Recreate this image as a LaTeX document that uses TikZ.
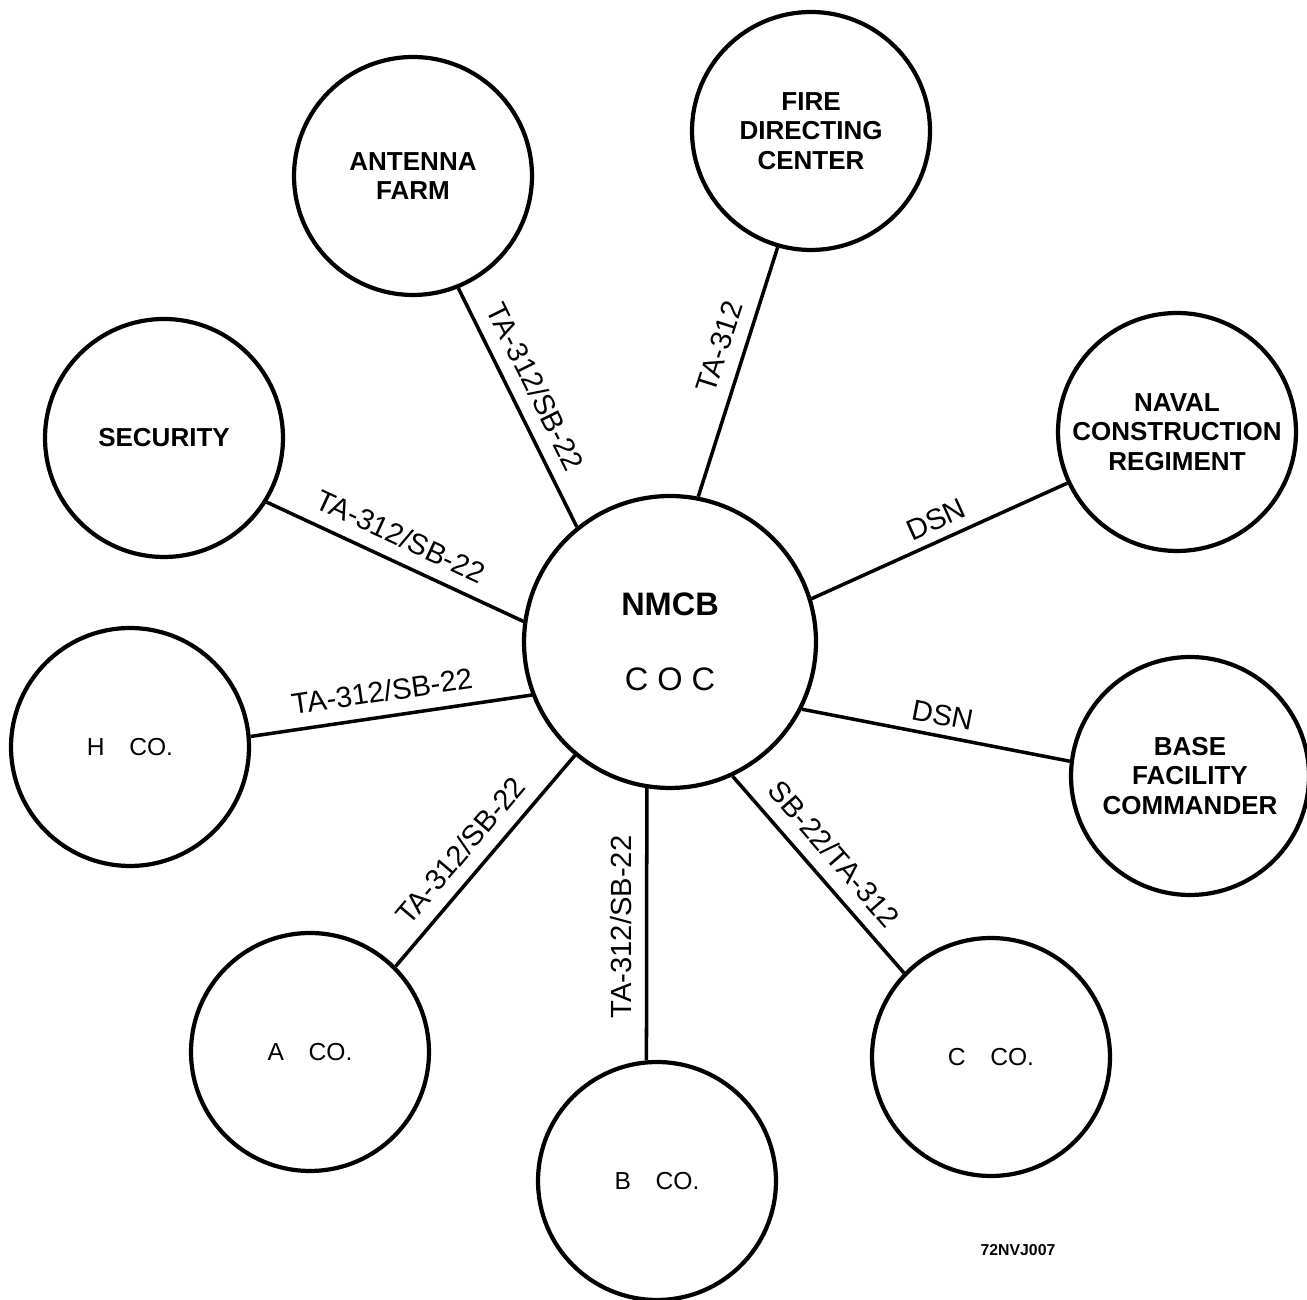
\documentclass[tikz,border=0pt]{standalone}
\usepackage{fontspec}
\setmainfont{Liberation Sans}
\usepackage{tikz}

\begin{document}
\begin{tikzpicture}[x=0.02cm,y=0.02cm,
  stn/.style={circle,draw,line width=2.4pt,minimum size=4.76cm,inner sep=0pt,align=center,font=\fontsize{14.8}{16.8}\selectfont\bfseries},
  co/.style={stn,font=\fontsize{14}{16.8}\selectfont},
  wire/.style={line width=2pt},
  lbl/.style={sloped,above,inner sep=#1,font=\fontsize{16.6}{18}\selectfont}]
\useasboundingbox (0,0) rectangle (1307,1300);
\node[stn,minimum size=5.84cm,font=\fontsize{18.5}{42.7}\selectfont](nmcb) at (670,658) {\textbf{NMCB}\\C O C};
\foreach \n/\x/\y/\1 in %
{antenna/413/1124/{ANTENNA\\FARM},fire/811/1169/{FIRE\\DIRECTING\\CENTER},
 security/164/862/{SECURITY},naval/1177/868/{NAVAL\\CONSTRUCTION\\REGIMENT},
 base/1190/524/{BASE\\FACILITY\\COMMANDER}} {
   \node[stn](\n) at (\x,\y) {\1};
}
\foreach \n/\x/\y/\1 in %
{hco/130/553/H,aco/310/248/A,bco/657/119/B,cco/991/243/C} {
   \node[co](\n) at (\x,\y) {\1\quad CO.};
}
% lines to the COC
\foreach \a/\b/\c/\d/\p/\s/\1 in %
{antenna/-68/nmcb/129/.46/7.5pt/{TA-312/SB-22},
 nmcb/79/fire/-106/.57/7.5pt/{TA-312},
 security/-32/nmcb/172/.48/7.5pt/{TA-312/SB-22},
 nmcb/17/naval/205/.52/5pt/{DSN},
 hco/5/nmcb/201/.48/7.5pt/{TA-312/SB-22},
 nmcb/-27/base/173/.51/5pt/{DSN},
 aco/45/nmcb/230/.47/7.5pt/{TA-312/SB-22},
 bco/95/nmcb/-99/.49/7.5pt/{TA-312/SB-22},
 nmcb/-65/cco/136/.48/7.5pt/{SB-22/TA-312}} {
   \draw[wire] (\a.\b) -- node[lbl=\s,pos=\p]{\1} (\c.\d);
}
\node[font=\fontsize{9}{10}\selectfont\bfseries](tag) at (1018,50) {72NVJ007};
\end{tikzpicture}
\end{document}
